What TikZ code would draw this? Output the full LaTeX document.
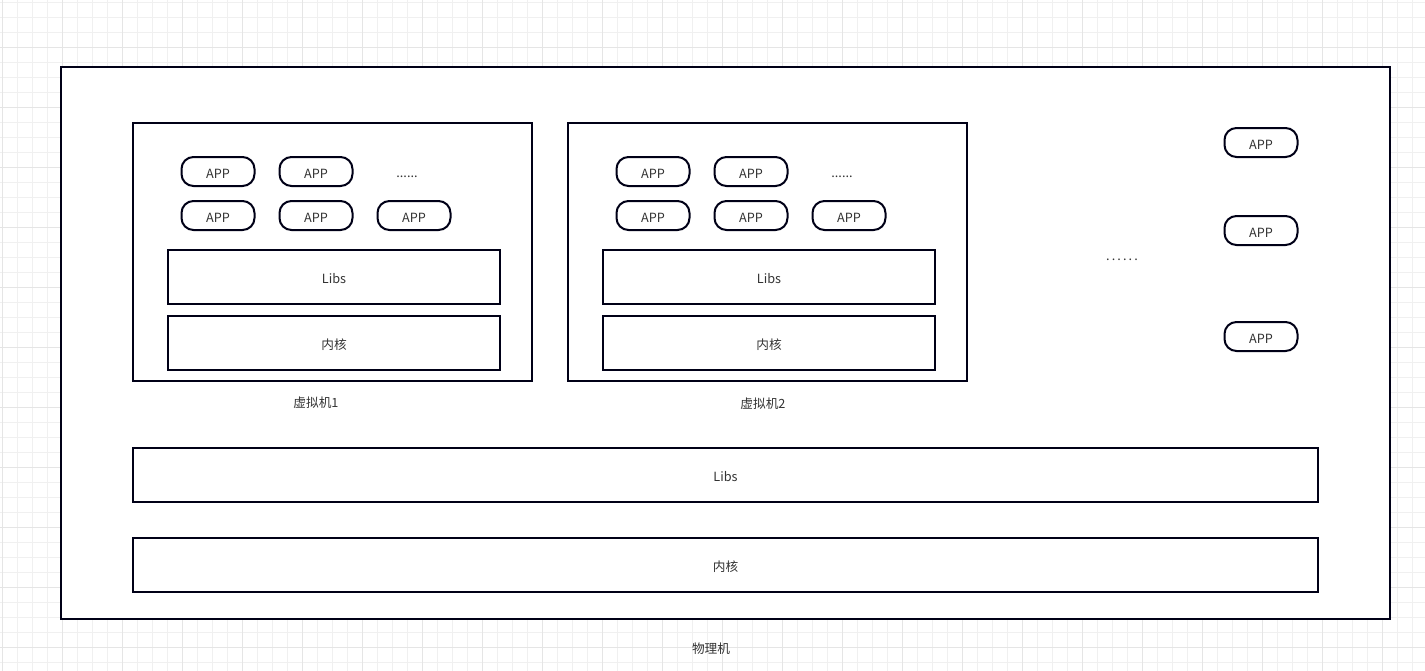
\documentclass[tikz,border=0pt]{standalone}
\usepackage{fontspec}
\setmainfont{Noto Sans CJK SC}
\begin{document}
\begin{tikzpicture}[x=0.75pt,y=-0.75pt,
  ink/.style={draw=black!85!blue!60!black, line width=1.5pt},
  box/.style={ink, fill=white, rectangle, inner sep=0pt},
  pill/.style={ink, fill=white, rounded corners=9pt, minimum width=73*0.75pt, minimum height=29*0.75pt, inner sep=0pt},
  lbl/.style={inner sep=0pt},
  every node/.style={font=\fontsize{9.5}{11}\selectfont, text=black!80, text height=1em, text depth=0pt}]
\useasboundingbox (0,0) rectangle (1425,671);
% background grid
\fill[white] (0,0) rectangle (1425,671);
\foreach \i in {0,...,95} {\draw[black!6, line width=0.75pt] (2+15*\i,0) -- (2+15*\i,671);}
\foreach \i in {0,...,44} {\draw[black!6, line width=0.75pt] (0,2+15*\i) -- (1425,2+15*\i);}
\foreach \i in {0,...,23} {\draw[black!10, line width=0.75pt] (2+60*\i,0) -- (2+60*\i,671);}
\foreach \i in {0,...,11} {\draw[black!10, line width=0.75pt] (0,47+60*\i) -- (1425,47+60*\i);}
% physical machine
\draw[box] (61,67) rectangle (1390,619);
\node[lbl] (pm) at (711,647) {物理机};
% host libs and kernel
\node[box, minimum width=1185*0.75pt, minimum height=54*0.75pt] (hlibs) at (725.5,475) {Libs};
\node[box, minimum width=1185*0.75pt, minimum height=54*0.75pt] (hkern) at (725.5,565) {内核};
% virtual machines
\foreach \n/\dx in {1/0, 2/435} {
  \begin{scope}[shift={(\dx,0)}]
    \node[box, minimum width=399*0.75pt, minimum height=258*0.75pt] (vm\n) at (332.5,252) {};
    \node[pill] (a\n1) at (218,171.5) {APP};
    \node[pill] (a\n2) at (316,171.5) {APP};
    \node[lbl] (d\n) at (407,171) {......};
    \node[pill] (a\n3) at (218,215.5) {APP};
    \node[pill] (a\n4) at (316,215.5) {APP};
    \node[pill] (a\n5) at (414,215.5) {APP};
    \node[box, minimum width=332*0.75pt, minimum height=54*0.75pt] (libs\n) at (334,277) {Libs};
    \node[box, minimum width=332*0.75pt, minimum height=54*0.75pt] (kern\n) at (334,343) {内核};
  \end{scope}
}
\node[lbl] (vl1) at (316,401) {虚拟机1};
\node[lbl] (vl2) at (763,402) {虚拟机2};
% standalone apps
\node[pill] (r1) at (1261,142.5) {APP};
\node[pill] (r2) at (1261,230.5) {APP};
\node[pill] (r3) at (1261,336.5) {APP};
\node[lbl] (dots) at (1122,254) {.\,.\,.\,.\,.\,.};
\end{tikzpicture}
\end{document}
